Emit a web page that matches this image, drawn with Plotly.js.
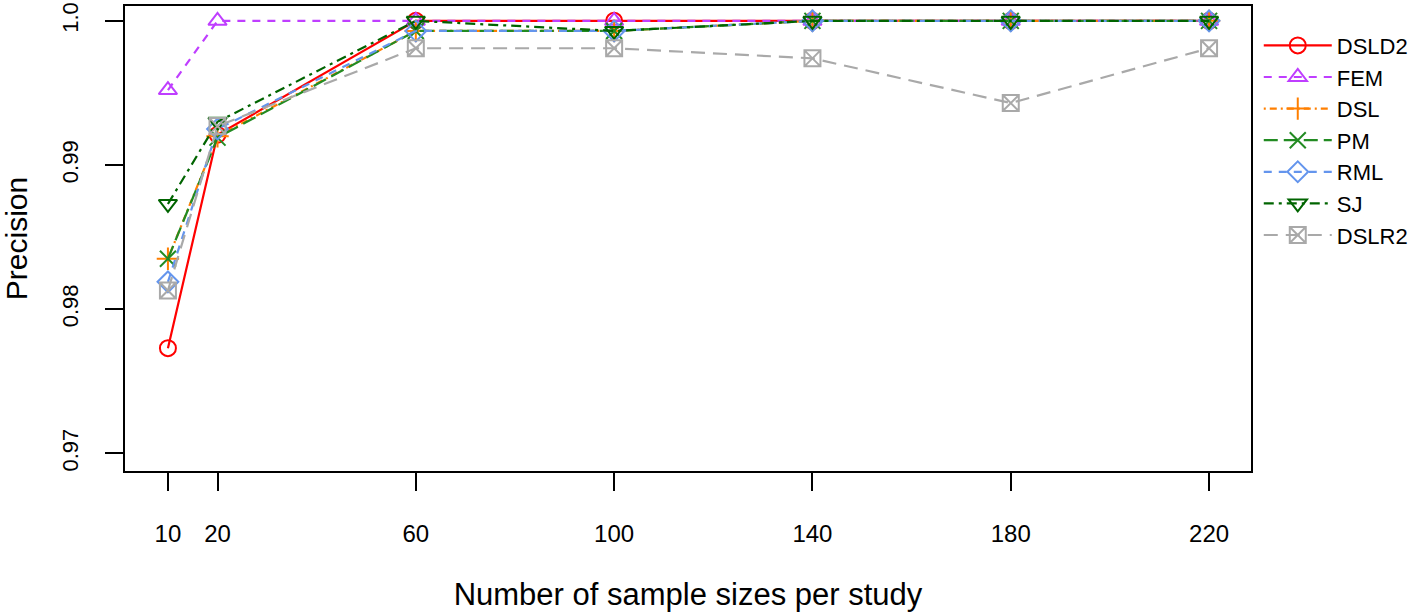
<!DOCTYPE html>
<html>
<head>
<meta charset="utf-8">
<script src="https://cdn.plot.ly/plotly-3.0.1.min.js"></script>
<style>html,body{margin:0;padding:0;background:#fff;}#chart{width:1418px;height:612px;}</style>
</head>
<body>
<div id="chart"></div>
<script>
const sampleSizes = [10, 20, 60, 100, 140, 180, 220];
const seriesNames = ["DSLD2", "FEM", "DSL", "PM", "RML", "SJ", "DSLR2"];
const DSLD2 = [0.9773, 0.9921, 1.0, 1.0, 1.0, 1.0, 1.0];
const FEM   = [0.9952, 1.0, 1.0, 1.0, 1.0, 1.0, 1.0];
const DSL   = [0.9835, 0.9920, 0.9993, 0.9993, 1.0, 1.0, 1.0];
const PM    = [0.9835, 0.9919, 0.9993, 0.9993, 1.0, 1.0, 1.0];
const RML   = [0.9819, 0.9925, 0.9993, 0.9993, 1.0, 1.0, 1.0];
const SJ    = [0.9873, 0.9930, 1.0, 0.9993, 1.0, 1.0, 1.0];
const DSLR2 = [0.9813, 0.9927, 0.9981, 0.9981, 0.9974, 0.9943, 0.9981];
const yTickVals = [0.97, 0.98, 0.99, 1.0];
const yTickText = ["0.97", "0.98", "0.99", "1.0"];

const values = [DSLD2, FEM, DSL, PM, RML, SJ, DSLR2];
const styles = [
  {color: "#FF0000", dash: "solid", symbol: "circle-open"},
  {color: "#BF3EFF", dash: "8px,7px", symbol: "triangle-up-open"},
  {color: "#FF7F00", dash: "2px,4px,7px,4px", symbol: "cross-thin-open"},
  {color: "#228B22", dash: "14px,6px", symbol: "x-thin-open"},
  {color: "#6495ED", dash: "8px,7px", symbol: "diamond-open"},
  {color: "#006400", dash: "10px,5px,3px,5px", symbol: "triangle-down-open"},
  {color: "#A9A9A9", dash: "14px,8px", symbol: "square-x-open"}
];

const traces = seriesNames.map((name, i) => ({
  x: sampleSizes,
  y: values[i],
  name: name,
  type: "scatter",
  mode: "lines+markers",
  line: {color: styles[i].color, width: 2.2, dash: styles[i].dash},
  marker: {symbol: styles[i].symbol, size: 16, color: styles[i].color,
           line: {color: styles[i].color, width: 2}}
}));

const layout = {
  width: 1418, height: 612,
  margin: {l: 125, r: 166, t: 6, b: 141},
  paper_bgcolor: "#fff", plot_bgcolor: "#fff",
  font: {family: "Liberation Sans, Arial, sans-serif", color: "#000", size: 24},
  showlegend: true,
  legend: {x: 1.006, xanchor: "left", y: 0.96, yanchor: "top",
           font: {size: 22}, tracegroupgap: 0, itemwidth: 68,
           bgcolor: "rgba(0,0,0,0)"},
  xaxis: {
    range: [1.34, 228.46], tickmode: "array", tickvals: sampleSizes,
    ticktext: sampleSizes.map(String),
    ticks: "outside", ticklen: 18, tickwidth: 2, tickcolor: "#000",
    showline: true, mirror: true, linecolor: "#000", linewidth: 2,
    showgrid: false, zeroline: false, ticklabelstandoff: 22,
    tickfont: {size: 24},
    title: {text: "Number of sample sizes per study", font: {size: 31}, standoff: 38}
  },
  yaxis: {
    range: [0.96878, 1.00103], tickmode: "array", tickvals: yTickVals, ticktext: yTickText,
    ticks: "outside", ticklen: 18, tickwidth: 2, tickcolor: "#000",
    showline: true, mirror: true, linecolor: "#000", linewidth: 2,
    showgrid: false, zeroline: false, tickangle: -90, ticklabelstandoff: 18,
    ticklabeloverflow: "allow",
    tickfont: {size: 22},
    title: {text: "Precision", font: {size: 30}, standoff: 22}
  }
};

Plotly.newPlot("chart", traces, layout, {displayModeBar: false, staticPlot: true});
</script>
</body>
</html>
